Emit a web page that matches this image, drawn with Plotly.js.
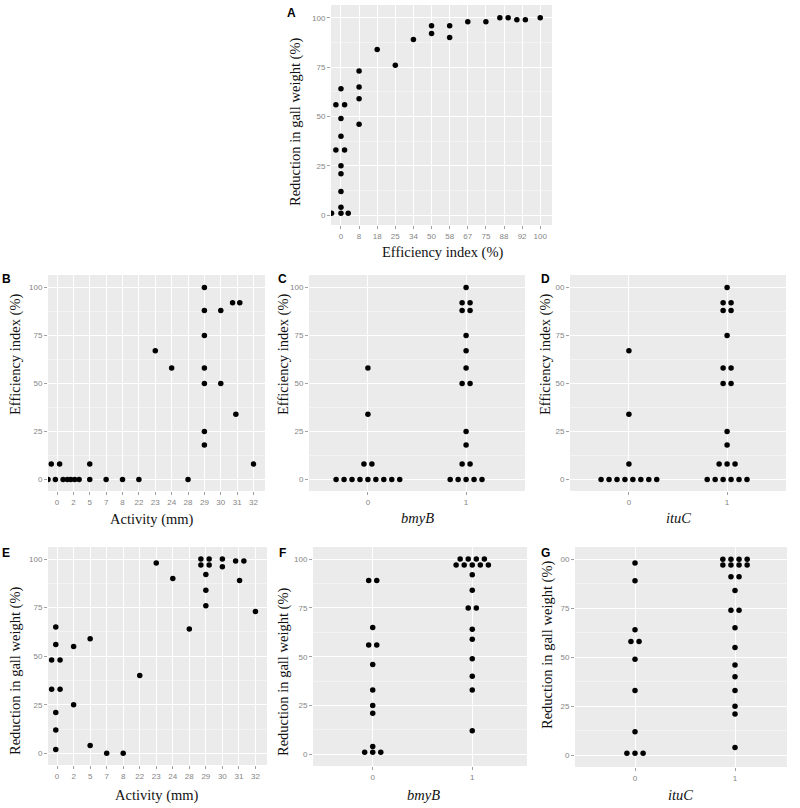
<!DOCTYPE html>
<html>
<head>
<meta charset="utf-8">
<script src="https://cdn.plot.ly/plotly-3.0.1.min.js"></script>
<style>html,body{margin:0;padding:0;background:#fff;}#chart{width:800px;height:808px;}</style>
</head>
<body>
<div id="chart"></div>
<script>
// ---------- Panel A: Efficiency index (%) vs Reduction in gall weight (%) ----------
const A_categories = ['0','8','18','25','34','50','58','67','75','88','92','100'];
const A_x = ['0','0','0','0','0','0','0','0','0','0','0','0','0','0','8','8','8','8','18','25','34','50','50','58','58','67','75','88','88','92','92','100'];
const A_y = [1,56,33,64,49,40,25,21,12,4,1,56,33,1, 73,65,59,46, 84, 76, 89, 96,92, 96,90, 98, 98, 100,100, 99,99, 100];
const A_jitter = [-0.52,-0.28,-0.28,0,0,0,0,0,0,0,0,0.2,0.2,0.4, 0,0,0,0, 0,0,0, 0,0, 0,0, 0,0, -0.23,0.23, -0.29,0.18, 0];

// ---------- Panel B: Activity (mm) vs Efficiency index (%) ----------
const activity_categories = ['0','2','5','7','8','22','23','24','28','29','30','31','32'];
const B_x = ['0','0','0','0','0','2','2','2','2','5','5','7','8','22','23','24','28','29','29','29','29','29','29','29','30','30','31','31','31','32'];
const B_y = [0,8,0,8,0, 0,0,0,0, 8,0, 0, 0, 0, 67, 58, 0, 100,88,75,58,50,25,18, 88,50, 92,92,34, 8];
const B_jitter = [-0.55,-0.35,-0.1,0.16,0.37, -0.37,-0.16,0.08,0.35, 0,0, 0, 0, 0, 0, 0, 0, 0,0,0,0,0,0,0, 0,0, -0.28,0.16,-0.08, 0];

// ---------- Panel E: Activity (mm) vs Reduction in gall weight (%) ----------
const E_x = ['0','0','0','0','0','0','0','0','0','2','2','5','5','7','8','22','23','24','28','29','29','29','29','29','29','29','30','30','31','31','31','32'];
const E_y = [48,33,65,56,21,12,2,48,33, 55,25, 59,4, 0, 0, 40, 98, 90, 64, 100,97,100,97,92,84,76, 100,96, 99,99,89, 73];
const E_jitter = [-0.33,-0.33,-0.08,-0.08,-0.08,-0.08,-0.08,0.18,0.18, 0,0, 0,0, 0, 0, 0, 0, 0, 0, -0.3,-0.3,0.2,0.2,0,0,0, 0,0, -0.2,0.3,0.04, 0];

// ---------- Gene panels (C, D: efficiency index; F, G: reduction in gall weight) ----------
const gene_categories = ['0','1'];
const C_bmyB0 = [0,0,0,0,0,0,0,0,0, 8,8, 34, 58];
const C_bmyB1 = [0,0,0,0,0, 8,8, 18, 25, 50,50, 58, 67, 75, 88,88, 92,92, 100];
const D_ituC0 = [0,0,0,0,0,0,0,0, 8, 34, 67];
const D_ituC1 = [0,0,0,0,0,0, 8,8,8, 18, 25, 50,50, 58,58, 75, 88,88, 92,92, 100];
const F_bmyB0 = [1,1,1, 4, 21, 25, 33, 46, 56,56, 65, 89,89];
const F_bmyB1 = [100,100,100,100, 97,97,97,97,97, 92, 84, 75,75, 64, 59, 49, 40, 33, 12];
const G_ituC0 = [1,1,1, 12, 33, 49, 58,58, 64, 89, 98];
const G_ituC1 = [100,100,100,100, 97,97,97,97, 91,91, 84, 74,74, 65, 55, 46, 40, 33, 25, 21, 4];

const yTickVals = [0,25,50,75,100];
const yMinorVals = [12.5,37.5,62.5,87.5];
const yTickText = ['0','25','50','75','100'];
const yTickTextCut = ['0','25','50','75','00'];

// ---------- helpers ----------
const W = 800, H = 808;
const dx = (a,b) => [a/W, b/W];
const dy = (t,b) => [1-b/H, 1-t/H];

function jitterTrace(cats, xs, ys, jit, ax) {
  return {
    type:'scatter', mode:'markers',
    x: xs.map((c,i)=> cats.indexOf(c) + jit[i]),
    y: ys,
    xaxis:'x'+ax, yaxis:'y'+ax,
    marker:{color:'#000', size:5.5},
    hoverinfo:'skip', showlegend:false
  };
}
const DOT = 0.081;
function dotTrace(groups, ax) {
  const xs=[], ys=[];
  groups.forEach((vals, gi) => {
    const counts = {};
    vals.forEach(v => counts[v] = (counts[v]||0)+1);
    const seen = {};
    vals.forEach(v => {
      const k = seen[v] || 0; seen[v] = k+1;
      xs.push(gi + (k - (counts[v]-1)/2)*DOT);
      ys.push(v);
    });
  });
  return {
    type:'scatter', mode:'markers', x:xs, y:ys,
    xaxis:'x'+ax, yaxis:'y'+ax,
    marker:{color:'#000', size:5.5},
    hoverinfo:'skip', showlegend:false
  };
}

const tickFont = {family:'Liberation Sans, Arial, sans-serif', size:8, color:'#858585'};
function xAxis(domain, range, cats, anchor) {
  return {
    domain, range, anchor, tickmode:'array',
    tickvals: cats.map((c,i)=>i), ticktext: cats,
    showgrid:true, gridcolor:'#ffffff', gridwidth:1,
    zeroline:false, showline:false,
    ticks:'outside', ticklen:3, tickcolor:'#a0a0a0', tickwidth:1,
    tickfont: tickFont, fixedrange:true
  };
}
function yAxis(domain, range, ticktext, anchor) {
  return {
    domain, range, anchor, tickmode:'array',
    tickvals: yTickVals, ticktext,
    showgrid:true, gridcolor:'#ffffff', gridwidth:1,
    minor:{tickmode:'array', tickvals:yMinorVals, showgrid:true, gridcolor:'#f5f5f5', gridwidth:0.8, ticks:''},
    zeroline:false, showline:false,
    ticks:'outside', ticklen:3, tickcolor:'#a0a0a0', tickwidth:1,
    tickfont: tickFont, fixedrange:true
  };
}

const data = [
  jitterTrace(A_categories, A_x, A_y, A_jitter, ''),
  jitterTrace(activity_categories, B_x, B_y, B_jitter, '2'),
  dotTrace([C_bmyB0, C_bmyB1], '3'),
  dotTrace([D_ituC0, D_ituC1], '4'),
  jitterTrace(activity_categories, E_x, E_y, E_jitter, '5'),
  dotTrace([F_bmyB0, F_bmyB1], '6'),
  dotTrace([G_ituC0, G_ituC1], '7')
];
data[0].xaxis='x'; data[0].yaxis='y';

const titleFont = {family:'Liberation Serif, Times New Roman, serif', size:14.5, color:'#111'};
const letterFont = {family:'Liberation Sans, Arial, sans-serif', size:12, color:'#000'};
function ann(text, px, py, font, angle) {
  const a = {text, x:px/W, y:1-py/H, xref:'paper', yref:'paper', xanchor:'center', yanchor:'middle', showarrow:false, font};
  if (angle) a.textangle = angle;
  return a;
}

const annotations = [
  ann('<b>A</b>', 291, 13, letterFont),
  ann('<b>B</b>', 6, 279, letterFont),
  ann('<b>C</b>', 282, 279, letterFont),
  ann('<b>D</b>', 545, 279, letterFont),
  ann('<b>E</b>', 6, 553, letterFont),
  ann('<b>F</b>', 282, 553, letterFont),
  ann('<b>G</b>', 545, 553, letterFont),
  ann('Efficiency index (%)', 442, 252, titleFont),
  ann('Reduction in gall weight (%)', 295, 122, titleFont, -90),
  ann('Activity (mm)', 152, 519, titleFont),
  ann('Efficiency index (%)', 15, 355, titleFont, -90),
  ann('<i>bmyB</i>', 417, 518, titleFont),
  ann('Efficiency index (%)', 283, 355, titleFont, -90),
  ann('<i>ituC</i>', 678, 518, titleFont),
  ann('Efficiency index (%)', 545, 355, titleFont, -90),
  ann('Activity (mm)', 157, 795, titleFont),
  ann('Reduction in gall weight (%)', 15, 671, titleFont, -90),
  ann('<i>bmyB</i>', 423, 795, titleFont),
  ann('Reduction in gall weight (%)', 283, 672, titleFont, -90),
  ann('<i>ituC</i>', 680, 795, titleFont),
  ann('Reduction in gall weight (%)', 547, 645, titleFont, -90)
];

const layout = {
  width:W, height:H,
  margin:{l:0,r:0,t:0,b:0},
  paper_bgcolor:'#ffffff', plot_bgcolor:'#EBEBEB',
  showlegend:false,
  xaxis:  xAxis(dx(331,552), [-0.55,11.65], A_categories, 'y'),
  yaxis:  yAxis(dy(5,225), [-5,106.5], yTickText, 'x'),
  xaxis2: xAxis(dx(48,265), [-0.55,12.7], activity_categories, 'y2'),
  yaxis2: yAxis(dy(275,491), [-6,106.5], yTickText, 'x2'),
  xaxis3: xAxis(dx(309,525), [-0.6,1.6], gene_categories, 'y3'),
  yaxis3: yAxis(dy(275,491), [-6,106.5], yTickText, 'x3'),
  xaxis4: xAxis(dx(570,786), [-0.6,1.6], gene_categories, 'y4'),
  yaxis4: yAxis(dy(275,491), [-6,106.5], yTickTextCut, 'x4'),
  xaxis5: xAxis(dx(48,267), [-0.55,12.7], activity_categories, 'y5'),
  yaxis5: yAxis(dy(547,765), [-6,106.2], yTickText, 'x5'),
  xaxis6: xAxis(dx(313,527), [-0.6,1.55], gene_categories, 'y6'),
  yaxis6: yAxis(dy(547,766), [-6,106.2], yTickText, 'x6'),
  xaxis7: xAxis(dx(575,787), [-0.6,1.52], gene_categories, 'y7'),
  yaxis7: yAxis(dy(547,767), [-6,106.2], yTickTextCut, 'x7'),
  annotations
};

Plotly.newPlot('chart', data, layout, {displayModeBar:false, staticPlot:true});
</script>
</body>
</html>
